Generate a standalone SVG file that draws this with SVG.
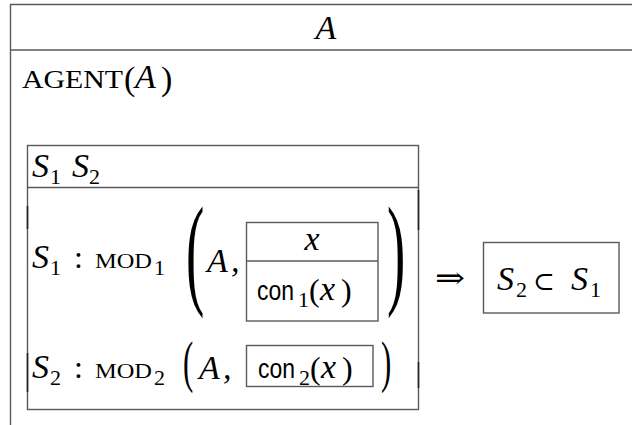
<svg xmlns="http://www.w3.org/2000/svg" width="632" height="425" viewBox="0 0 632 425">
<style>
.ln{stroke:#5a5a5a;stroke-width:1.4;fill:none}
.dk{stroke:#222;stroke-width:1.6}
.it{font-family:"Liberation Serif",serif;font-style:italic;font-size:34px;fill:#000}
.rm{font-family:"Liberation Serif",serif;font-size:32px;fill:#000}
.sc{font-family:"Liberation Serif",serif;font-size:21px;fill:#000}
.sub{font-family:"Liberation Serif",serif;font-size:22px;fill:#000}
.sf{font-family:"Liberation Sans",sans-serif;font-size:28px;fill:#000}
.sym{font-family:"DejaVu Serif",serif;font-size:30px;fill:#000}
</style>
<g id="outer">
<path class="ln" d="M632,4.5 H10.5 V425 M10.5,50 H632"/>
<text class="it" x="326" y="39" text-anchor="middle">A</text>
</g>
<g id="agent">
<text class="rm" x="22" y="88" style="font-size:26px" textLength="101" lengthAdjust="spacingAndGlyphs">AGENT</text>
<text class="rm" x="124" y="90" style="font-size:34px">(</text>
<text class="it" x="135" y="88">A</text>
<text class="rm" x="161" y="90" style="font-size:34px">)</text>
</g>
<g id="inner">
<rect class="ln" x="27.5" y="145.5" width="391" height="264"/>
<path class="ln" d="M27.5,187.5 H418.5"/>
<path class="dk" d="M27.5,206 V229 M418.5,190 V230 M27.5,353 V392 M418.5,362 V388"/>
<text class="it" x="32" y="177">S</text>
<text class="sub" x="50" y="184">1</text>
<text class="it" x="72" y="177">S</text>
<text class="sub" x="89" y="184">2</text>
</g>
<g id="mod1">
<text class="it" x="32" y="268">S</text>
<text class="sub" x="50" y="275">1</text>
<text class="rm" x="74" y="268">:</text>
<text class="sc" x="95" y="268" textLength="57" lengthAdjust="spacingAndGlyphs">MOD</text>
<text class="sub" x="154" y="275">1</text>
<text class="rm" transform="translate(186,292) scale(0.45,1)" style="font-size:122px">(</text>
<text class="it" x="207" y="272">A</text>
<text class="it" x="231" y="272">,</text>
<rect class="ln" x="246.5" y="222.5" width="131.5" height="98.5"/>
<path class="ln" d="M246.5,261 H378"/>
<text class="it" x="312" y="250" text-anchor="middle">x</text>
<text class="sf" x="257" y="300" textLength="37" lengthAdjust="spacingAndGlyphs">con</text>
<text class="sub" x="298" y="307">1</text>
<text class="rm" x="309" y="301">(</text>
<text class="it" x="320" y="300">x</text>
<text class="rm" x="341" y="301">)</text>
<text class="rm" transform="translate(387,292) scale(0.45,1)" style="font-size:122px">)</text>
</g>
<g id="mod2">
<text class="it" x="32" y="378">S</text>
<text class="sub" x="50" y="385">2</text>
<text class="rm" x="74" y="378">:</text>
<text class="sc" x="95" y="378" textLength="57" lengthAdjust="spacingAndGlyphs">MOD</text>
<text class="sub" x="154" y="385">2</text>
<text class="rm" transform="translate(183,381) scale(0.55,1)" style="font-size:56px">(</text>
<text class="it" x="199" y="379">A</text>
<text class="it" x="223" y="379">,</text>
<rect class="ln" x="246.5" y="345.5" width="126.5" height="41"/>
<text class="sf" x="258" y="378" textLength="37" lengthAdjust="spacingAndGlyphs">con</text>
<text class="sub" x="299" y="385">2</text>
<text class="rm" x="310" y="379">(</text>
<text class="it" x="321" y="378">x</text>
<text class="rm" x="342" y="379">)</text>
<text class="rm" transform="translate(381,381) scale(0.55,1)" style="font-size:56px">)</text>
</g>
<g id="connectors">
<text class="sym" x="435" y="288" textLength="30" lengthAdjust="spacingAndGlyphs">⇒</text>
</g>
<g id="result">
<rect class="ln" x="483.5" y="242.5" width="135.5" height="70.5"/>
<text class="it" x="497" y="290">S</text>
<text class="sub" x="516" y="297">2</text>
<text class="sym" x="533" y="290" style="font-size:26px">⊂</text>
<text class="it" x="571" y="290">S</text>
<text class="sub" x="590" y="297">1</text>
</g>
</svg>
